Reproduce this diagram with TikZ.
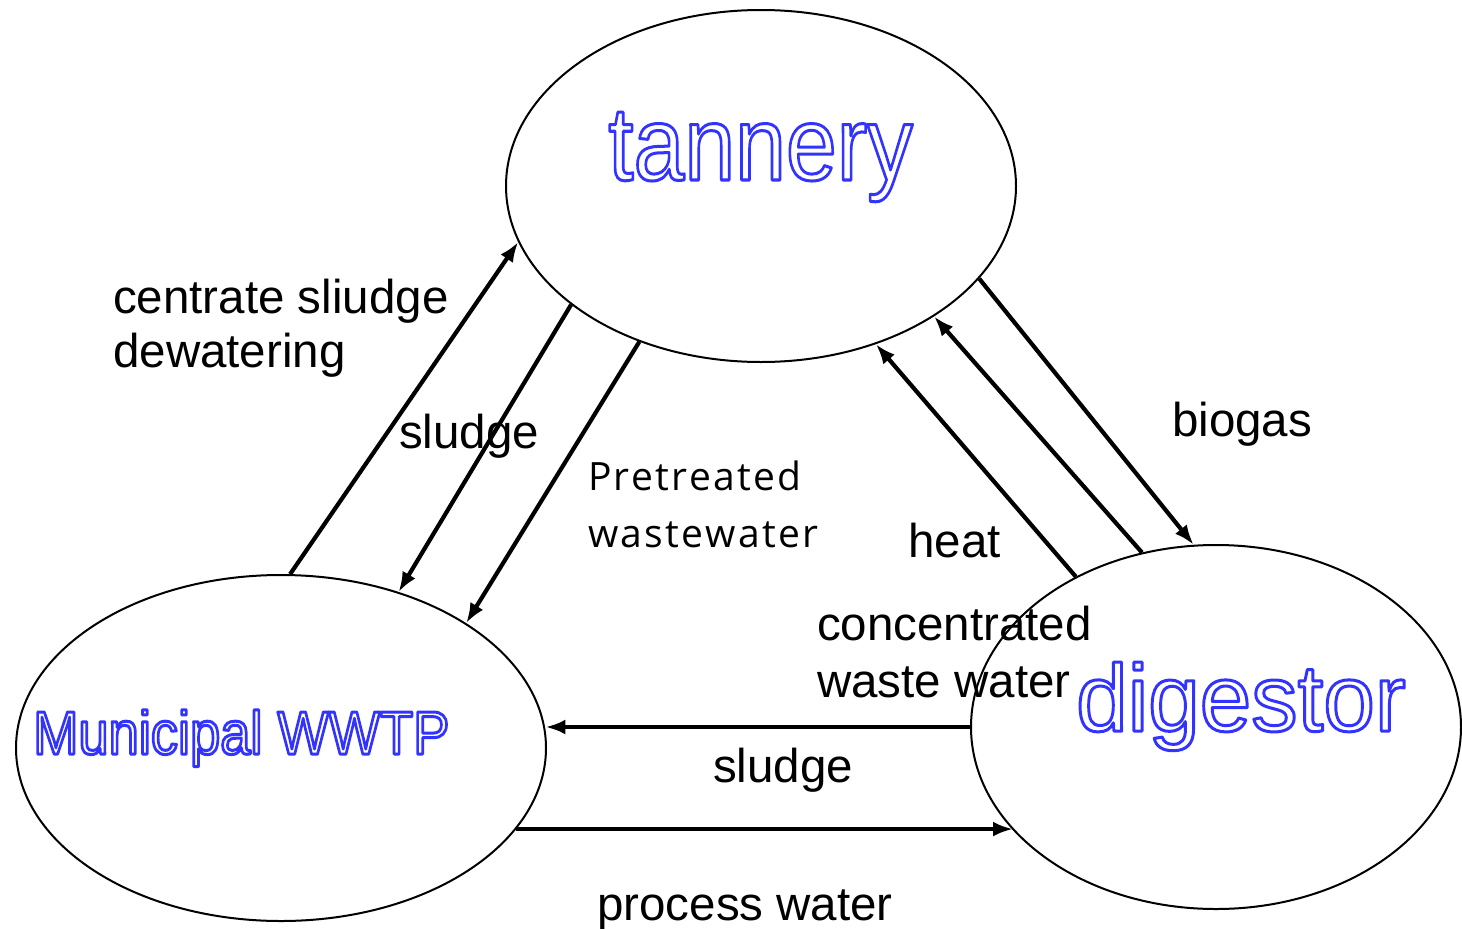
\documentclass[tikz,border=0pt]{standalone}
\usepackage{fontspec}
\setmainfont{Liberation Sans}
\newfontfamily\ofont{Open Sans}[LetterSpace=6]
\usetikzlibrary{shapes.geometric,arrows.meta}
\newcommand{\hollow}[1]{\special{pdf:literal direct 1 Tr 3 w 1 j 0.2 0.2 1 RG}#1\special{pdf:literal direct 0 Tr 0 j}}
\begin{document}
\begin{tikzpicture}[x=1pt,y=-1pt,
  blob/.style={draw, line width=2pt, ellipse, inner sep=0pt},
  conn/.style={line width=4.2pt, -{Latex[length=20pt,width=15pt]}},
  lbl/.style={inner sep=0pt, anchor=base west, font=\fontsize{47.5}{57}\selectfont},
  olbl/.style={inner sep=0pt, anchor=base west, font=\ofont\fontsize{39}{46}\selectfont},
  big/.style={inner sep=0pt, anchor=base west}]
\useasboundingbox (0,0) rectangle (1462,929);
% ellipses
\node[blob, minimum width=510pt, minimum height=352pt] (tan) at (761,186) {};
\node[blob, minimum width=530pt, minimum height=346pt] (mun) at (281,748) {};
\node[blob, minimum width=490pt, minimum height=364pt] (dig) at (1216,727) {};
% connectors
\draw[conn] (mun.87) -- (tan.193);
\draw[conn] (tan.212.75) -- (mun.53.9);
\draw[conn] (tan.232.3) -- (mun.34.2);
\draw[conn] (dig.133.1) -- (tan.306.4);
\draw[conn] (dig.113.9) -- (tan.323.9);
\draw[conn] (tan.337.6) -- (dig.97);
\draw[conn] (dig.west) -- (mun.4.5 |- dig.west);
\draw[conn] (mun.-19.5) -- (mun.-19.5 -| dig.207.2);
% labels
\node[lbl] (c1) at (113,313) {centrate sliudge};
\node[lbl] (c2) at (113,367) {dewatering};
\node[lbl] (s1) at (399,448) {sludge};
\node[olbl] (p1) at (588,490) {Pretreated};
\node[olbl] (p2) at (588,547) {wastewater};
\node[lbl] (bg) at (1172,436) {biogas};
\node[lbl] (ht) at (908,557) {heat};
\node[lbl] (cw1) at (817,640) {concentrated};
\node[lbl] (cw2) at (817,697) {waste water};
\node[lbl] (s2) at (713,782) {sludge};
\node[lbl] (pw) at (597,920) {process water};
% hollow titles
\node[big, font=\fontsize{105}{120}\selectfont] (tantxt) at (608,180) {\scalebox{0.87}[1]{\hollow{tannery}}};
\node[big, font=\fontsize{61}{70}\selectfont] (muntxt) at (33,754) {\scalebox{0.89}[1]{\hollow{Municipal WWTP}}};
\node[big, font=\fontsize{95}{110}\selectfont] (digtxt) at (1076,731) {\scalebox{0.975}[1]{\hollow{digestor}}};
\end{tikzpicture}
\end{document}
